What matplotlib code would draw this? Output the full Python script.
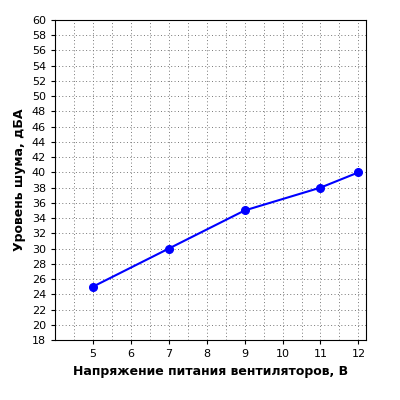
import matplotlib
matplotlib.use("Agg")
import matplotlib.pyplot as plt
import numpy as np

voltage = [5, 7, 9, 11, 12]
noise = [25, 30, 35, 38, 40]
xticks = [5, 6, 7, 8, 9, 10, 11, 12]
yticks = list(range(18, 61, 2))

fig = plt.figure(figsize=(4, 4), dpi=100)
ax = fig.add_axes([55/400, 60/400, 311/400, 320/400])
ax.plot(voltage, noise, color="#0000ff", lw=1.5, marker="o", ms=5.5, zorder=3)
ax.set_xlim(4, 12.2)
ax.set_ylim(18, 60)
ax.set_xticks(xticks)
ax.set_xticks(np.arange(4.5, 12.2, 0.5), minor=True)
ax.set_yticks(yticks)
ax.tick_params(axis="x", which="minor", length=0)
ax.tick_params(labelsize=8, length=3)
ax.grid(True, which="both", axis="x", ls=(0, (1, 2.5)), color="#777777", lw=0.7)
ax.grid(True, which="major", axis="y", ls=(0, (1, 2.5)), color="#777777", lw=0.7)
ax.set_xlabel("Напряжение питания вентиляторов, В", fontsize=9, fontweight="bold")
ax.set_ylabel("Уровень шума, дБА", fontsize=9, fontweight="bold")
fig.savefig("out.png", dpi=100)
